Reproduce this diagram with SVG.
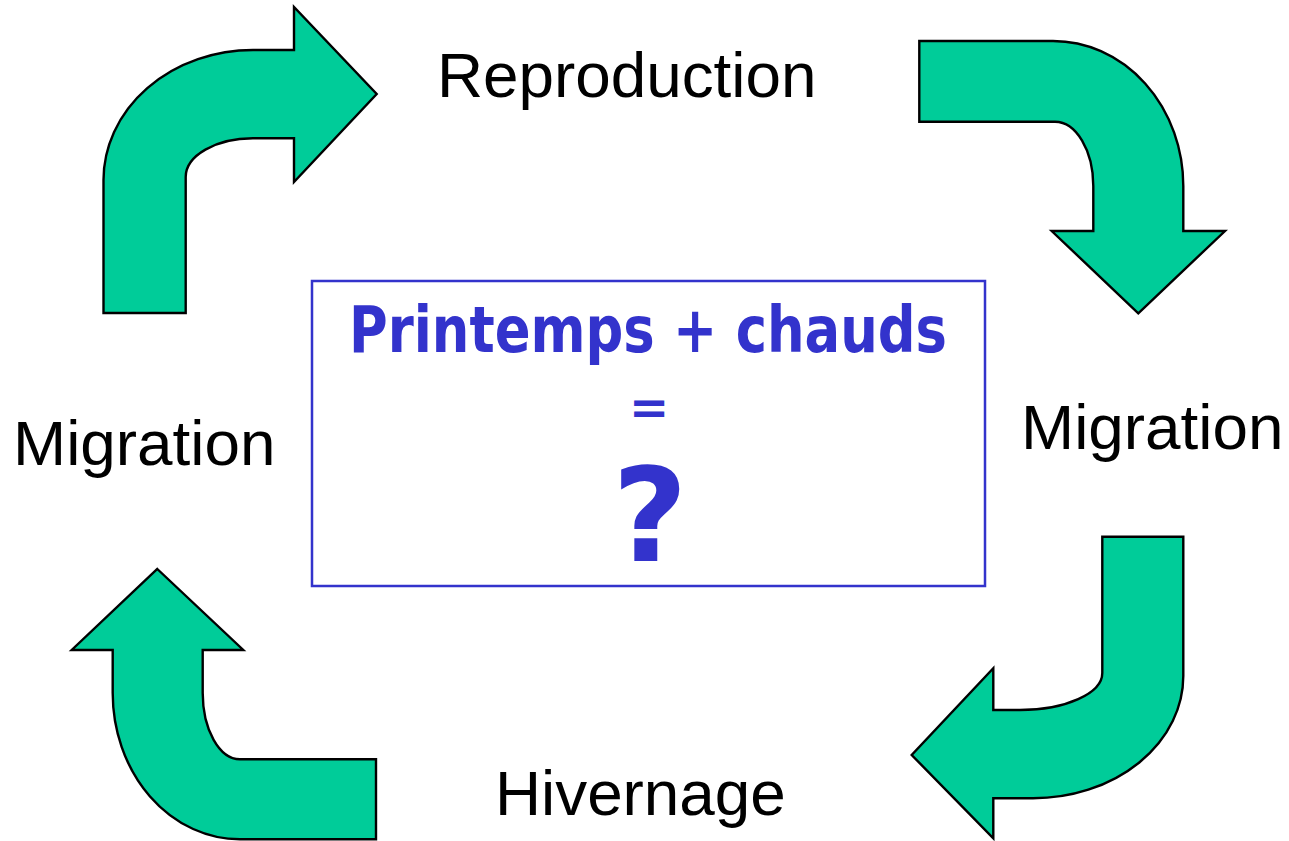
<svg xmlns="http://www.w3.org/2000/svg" width="1289" height="841" viewBox="0 0 1289 841">
  <style>
    .arrow { fill: #00CC99; stroke: #000000; stroke-width: 2.4; stroke-linejoin: miter; }
    .label { font-family: "Liberation Sans", Arial, sans-serif; font-size: 63.8px; fill: #000000; }
    .box { fill: #FFFFFF; stroke: #3333CC; stroke-width: 2.5; }
    .hand { font-family: "Comic Sans MS", "DejaVu Sans", sans-serif; font-weight: bold; fill: #3333CC; text-anchor: middle; }
  </style>
  <rect width="1289" height="841" fill="#FFFFFF"/>

  <!-- cycle arrows -->
  <g id="connectors">
    <path id="arrow-up-right" class="arrow" d="M 103.5 313 L 103.5 180 A 149.5 130 0 0 1 253 50 L 294 50 L 294 7 L 376.7 94 L 294 182 L 294 138.3 L 253 138.3 A 67.3 38.7 0 0 0 185.7 177 L 185.7 313 Z"/>
    <path id="arrow-right-down" class="arrow" d="M 919.3 41 L 1053 41 A 130.3 145 0 0 1 1183.3 186 L 1183.3 231 L 1225 231 L 1138.3 313.3 L 1051.7 231 L 1093.3 231 L 1093.3 186 A 38.3 64.3 0 0 0 1055 121.7 L 919.3 121.7 Z"/>
    <path id="arrow-down-left" class="arrow" d="M 1102.3 536.7 L 1183.3 536.7 L 1183.3 676 A 150.3 122.3 0 0 1 1033 798.3 L 993.3 798.3 L 993.3 838.3 L 911.7 755 L 993.3 668.3 L 993.3 710 L 1020 710 A 82.3 37 0 0 0 1102.3 673 Z"/>
    <path id="arrow-left-up" class="arrow" d="M 157.3 569 L 243.3 650 L 202.7 650 L 202.7 693 A 37.3 66.3 0 0 0 240 759.3 L 376 759.3 L 376 839.3 L 240 839.3 A 127.3 146.3 0 0 1 112.7 693 L 112.7 650 L 71.7 650 Z"/>
  </g>

  <!-- stage labels -->
  <g id="reproduction"><text class="label" x="437" y="97">Reproduction</text></g>
  <g id="migration-right"><text class="label" x="1021" y="449">Migration</text></g>
  <g id="hivernage"><text class="label" x="495" y="815">Hivernage</text></g>
  <g id="migration-left"><text class="label" x="13" y="465">Migration</text></g>

  <!-- central question -->
  <g id="question">
    <rect class="box" x="312" y="281" width="673" height="305"/>
    <text class="hand" x="648" y="352" font-size="64" textLength="598" lengthAdjust="spacingAndGlyphs">Printemps + chauds</text>
    <text class="hand" x="649" y="424" font-size="48">=</text>
    <text class="hand" x="650" y="561" font-size="130">?</text>
  </g>
</svg>
